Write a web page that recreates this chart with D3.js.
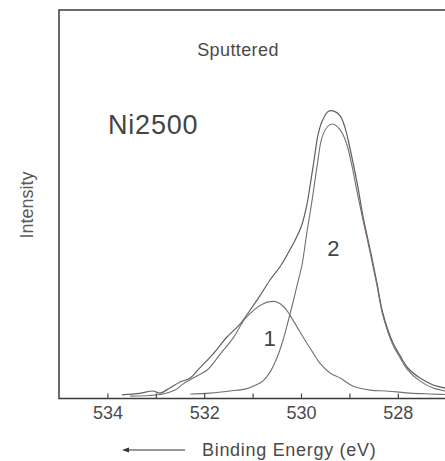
<!DOCTYPE html>
<html>
<head>
<meta charset="utf-8">
<script src="https://cdn.jsdelivr.net/npm/d3@7"></script>
<style>
  html, body { margin: 0; padding: 0; background: #ffffff; }
  svg { display: block; }
  text { font-family: "Liberation Sans", Arial, Helvetica, sans-serif; }
</style>
</head>
<body>
<div id="chart"></div>
<script>
// ---- Data ----
const envelopeE = [533.70,533.33,533.06,532.91,532.71,532.50,532.29,532.09,531.82,531.53,531.26,531.05,530.85,530.64,530.43,530.29,530.12,529.98,529.88,529.81,529.73,529.65,529.57,529.44,529.32,529.19,529.09,528.99,528.84,528.72,528.57,528.43,528.31,528.10,527.95,527.81,527.54,527.27,527.02,526.82];
const envelopeI = [1.2,1.7,2.5,1.8,3.5,5.5,6.8,10.2,14.8,20.5,24.8,29.5,34.2,39.5,44.0,47.8,52.8,58.0,64.5,71.2,79.5,87.8,92.2,95.7,95.8,94.2,90.2,83.5,71.8,60.8,49.5,38.5,28.5,18.5,14.2,10.5,6.8,4.5,3.5,2.8];

const peak1E = [533.53,533.12,532.85,532.60,532.44,532.19,531.94,531.67,531.40,531.16,530.95,530.79,530.64,530.50,530.35,530.23,530.08,529.92,529.75,529.61,529.40,529.19,528.93,528.57,528.26,528.02,527.75,527.33,526.82];
const peak1I = [0.8,1.0,1.5,2.8,4.8,7.2,9.5,14.8,20.2,26.5,29.8,31.5,32.3,32.2,30.5,27.8,23.8,19.5,15.2,11.8,8.5,6.8,4.2,2.8,2.5,2.2,1.8,1.5,1.2];

const peak2E = [532.29,531.88,531.47,531.12,530.93,530.79,530.64,530.50,530.37,530.27,530.19,530.08,529.98,529.88,529.77,529.67,529.57,529.46,529.36,529.26,529.15,529.05,528.95,528.84,528.72,528.57,528.43,528.31,528.10,527.95,527.81,527.54,527.27,527.02,526.82];
const peak2I = [1.5,1.8,2.5,3.3,4.5,5.8,8.8,13.5,19.5,25.5,30.5,37.8,44.5,55.2,66.2,77.2,86.8,90.5,91.5,90.8,88.5,84.5,77.8,68.8,59.5,48.5,37.5,27.8,17.8,13.5,9.8,5.8,3.5,2.5,1.8];

const majorTicks = [534, 532, 530, 528];
const minorTicks = [533, 531, 529, 527];
const peakLabels = ["1", "2"];
const peakLabelE = [530.65, 529.33];
const peakLabelI = [17.5, 47.5];

const titleText = "Sputtered";
const sampleText = "Ni2500";
const xTitle = "Binding Energy (eV)";
const yTitle = "Intensity";

// ---- Layout ----
const W = 445, H = 461;
const mLeft = 59, mRight = 455.9, mTop = 10, mBottom = 398.5;

const svg = d3.select("#chart").append("svg")
  .attr("width", W).attr("height", H)
  .attr("viewBox", `0 0 ${W} ${H}`);

const x = d3.scaleLinear().domain([535, 526.8]).range([mLeft, mRight]);
const y = d3.scaleLinear().domain([0, 129.5]).range([mBottom, mTop]);

// curves
const line = d3.line()
  .x(d => x(d[0])).y(d => y(d[1]))
  .curve(d3.curveCatmullRom.alpha(0.5));

const series = [
  {E: envelopeE, I: envelopeI, color: "#606060", w: 1.2},
  {E: peak1E, I: peak1I, color: "#727272", w: 1.1},
  {E: peak2E, I: peak2I, color: "#7d6a6a", w: 1.1}
];
series.forEach(s => {
  svg.append("path")
    .datum(s.E.map((e, i) => [e, s.I[i]]))
    .attr("d", line)
    .attr("fill", "none")
    .attr("stroke", s.color)
    .attr("stroke-width", s.w)
    .attr("stroke-linejoin", "round");
});

// frame
svg.append("rect")
  .attr("x", mLeft).attr("y", mTop)
  .attr("width", mRight - mLeft).attr("height", mBottom - mTop)
  .attr("fill", "none").attr("stroke", "#3a3a3a").attr("stroke-width", 1.5);

// x axis (ticks inward)
const axisMajor = d3.axisBottom(x).tickValues(majorTicks)
  .tickSize(-5).tickPadding(8).tickFormat(d3.format("d"));
const gx = svg.append("g").attr("transform", `translate(0,${mBottom})`).call(axisMajor);
gx.select(".domain").remove();
gx.selectAll(".tick line").attr("stroke", "#444").attr("stroke-width", 1.2);
gx.selectAll(".tick text")
  .attr("fill", "#4a4a4a").style("font-size", "18px")
  .style("font-family", "'Liberation Sans', Arial, sans-serif");

const axisMinor = d3.axisBottom(x).tickValues(minorTicks)
  .tickSize(-5).tickFormat("");
const gm = svg.append("g").attr("transform", `translate(0,${mBottom})`).call(axisMinor);
gm.select(".domain").remove();
gm.selectAll(".tick line").attr("stroke", "#444").attr("stroke-width", 1.2);

// texts
svg.append("text").attr("x", 238).attr("y", 56)
  .attr("text-anchor", "middle").attr("fill", "#4a4a4a")
  .style("font-size", "18px").style("letter-spacing", "0.4px")
  .text(titleText);

svg.append("text").attr("x", 108).attr("y", 134)
  .attr("fill", "#444")
  .style("font-size", "27px").style("letter-spacing", "0.8px")
  .text(sampleText);

peakLabels.forEach((t, i) => {
  svg.append("text")
    .attr("x", x(peakLabelE[i])).attr("y", y(peakLabelI[i]))
    .attr("text-anchor", "middle").attr("fill", "#444")
    .style("font-size", "22px")
    .text(t);
});

svg.append("text")
  .attr("transform", `translate(33,205) rotate(-90)`)
  .attr("text-anchor", "middle").attr("fill", "#5a5a5a")
  .style("font-size", "18px")
  .text(yTitle);

// x title with arrow
svg.append("text").attr("x", 202).attr("y", 456)
  .attr("fill", "#4a4a4a")
  .style("font-size", "18px").style("letter-spacing", "0.7px")
  .text(xTitle);

svg.append("line")
  .attr("x1", 126).attr("y1", 450).attr("x2", 185).attr("y2", 450)
  .attr("stroke", "#333").attr("stroke-width", 1.2);
svg.append("path")
  .attr("d", "M122,450 L129,447.5 L129,452.5 Z")
  .attr("fill", "#333");
</script>
</body>
</html>
